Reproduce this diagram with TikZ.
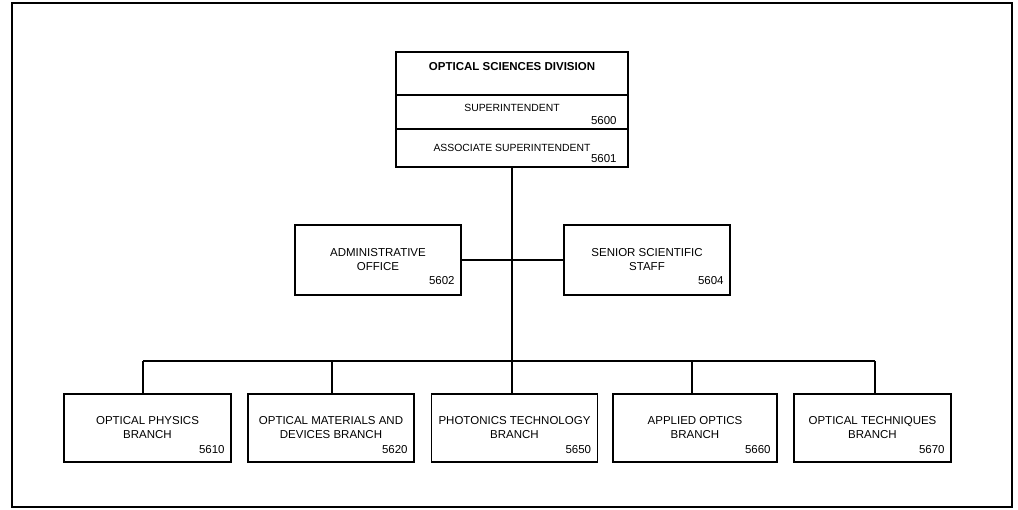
\documentclass[tikz,border=0pt]{standalone}
\usepackage{fontspec}
\setmainfont{Liberation Sans}
\usetikzlibrary{positioning}

\tikzset{
  unit/.style={draw, rectangle, line width=1.6pt, inner sep=0pt, align=center,
    minimum width=166pt, minimum height=70pt, font=\fontsize{11.5}{14}\selectfont},
  row/.style={unit, minimum width=232pt, font=\fontsize{10.4}{12}\selectfont},
  code/.style={anchor=south east, inner sep=0pt, font=\fontsize{11.5}{12}\selectfont}
}

\begin{document}
\begin{tikzpicture}[x=1pt, y=-1pt]
        \useasboundingbox (0, 0) rectangle (1018, 510);
        \draw[line width=1.6pt] (12, 3) rectangle (1012, 507);

        % division head
        \node[row, minimum height=43pt, label={[anchor=north, inner sep=0pt, yshift=-11pt, font=\fontsize{11.5}{12}\bfseries]north:OPTICAL SCIENCES DIVISION}] (div) at (512, 73.5) {};
        \node[row, minimum height=34pt, text height=8pt, text depth=8.6pt] (sup) at (512, 112) {SUPERINTENDENT};
        \node[row, minimum height=38pt] (assoc) at (512, 148) {ASSOCIATE SUPERINTENDENT};
        \node[code, xshift=-12pt, yshift=5pt] (c5600) at (sup.south east) {5600};
        \node[code, xshift=-12pt, yshift=5pt] (c5601) at (assoc.south east) {5601};

        % staff
        \node[unit] (admin) at (378, 260) {ADMINISTRATIVE\\OFFICE};
        \node[unit] (senior) at (647, 260) {SENIOR SCIENTIFIC\\STAFF};
        \node[code, xshift=-7pt, yshift=11pt] (c5602) at (admin.south east) {5602};
        \node[code, xshift=-7pt, yshift=11pt] (c5604) at (senior.south east) {5604};

        % branches
        \node[unit, minimum width=167pt, minimum height=68pt] (b5610) at (147.5, 428) {OPTICAL PHYSICS\\BRANCH};
        \node[unit, minimum width=166pt, minimum height=68pt] (b5620) at (331, 428) {OPTICAL MATERIALS AND\\DEVICES BRANCH};
        \node[unit, minimum width=166pt, minimum height=68pt] (b5650) at (514.5, 428) {PHOTONICS TECHNOLOGY\\BRANCH};
        \node[unit, minimum width=164pt, minimum height=68pt] (b5660) at (695, 428) {APPLIED OPTICS\\BRANCH};
        \node[unit, minimum width=157pt, minimum height=68pt] (b5670) at (872.5, 428) {OPTICAL TECHNIQUES\\BRANCH};
        \foreach \b in {5610, 5620, 5650, 5660, 5670}
            \node[code, xshift=-7pt, yshift=9pt] (c\b) at (b\b.south east) {\b};

        \coordinate (bus1) at (143, 361);
        \coordinate (bus2) at (332, 361);
        \coordinate (bus4) at (692, 361);
        \coordinate (bus5) at (875, 361);

        \draw[line width=1.6pt] (assoc.south) -- (assoc.south |- b5650.north)
              (admin.east) -- (senior.west)
              (bus1) -- (bus5)
              (bus1) -- (bus1 |- b5610.north)
              (bus2) -- (bus2 |- b5620.north)
              (bus4) -- (bus4 |- b5660.north)
              (bus5) -- (bus5 |- b5670.north);
    \end{tikzpicture}
\end{document}
